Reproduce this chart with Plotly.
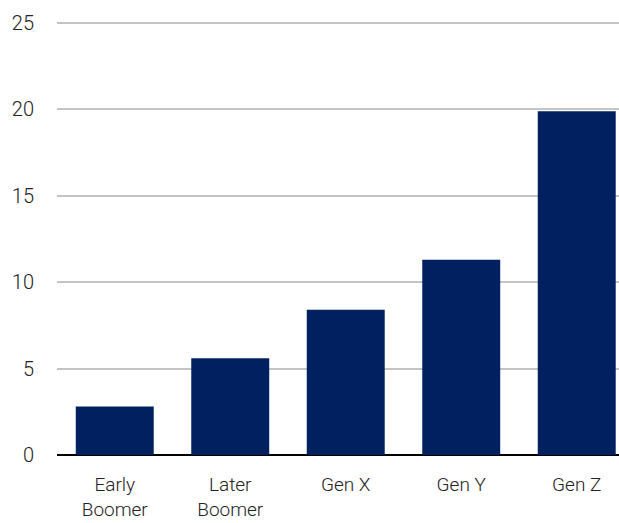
import plotly.graph_objects as go

# Generational cohorts and their values
categories = ["Early<br>Boomer", "Later<br>Boomer", "Gen X", "Gen Y", "Gen Z"]
values = [2.8, 5.6, 8.4, 11.3, 19.9]
y_ticks = [0, 5, 10, 15, 20, 25]

BAR_COLOR = "#002060"
FONT = "Roboto, sans-serif"

fig = go.Figure(
    go.Bar(
        x=list(range(len(categories))),
        y=values,
        marker=dict(color=BAR_COLOR, line=dict(width=0)),
        width=0.675,
    )
)

fig.update_layout(
    width=619,
    height=523,
    margin=dict(l=57, r=0, t=22, b=68),
    paper_bgcolor="white",
    plot_bgcolor="white",
    showlegend=False,
    font=dict(family=FONT, size=20, color="#222222", weight=300),
)

fig.update_xaxes(
    tickmode="array",
    tickvals=list(range(len(categories))),
    ticktext=categories,
    range=[-0.5, 4.366],
    showgrid=False,
    showline=False,
    ticks="",
    zeroline=False,
    ticklabelstandoff=16,
    tickfont=dict(family=FONT, size=19, weight=300),
)

fig.update_yaxes(
    range=[0, 25.06],
    tickvals=y_ticks,
    showgrid=True,
    gridcolor="#c4c4c4",
    gridwidth=2,
    zeroline=True,
    zerolinecolor="#000000",
    zerolinewidth=1.5,
    showline=False,
    ticks="",
    ticklabelstandoff=22,
    tickfont=dict(family=FONT, size=20, weight=300),
)

fig.write_html("out.html")
